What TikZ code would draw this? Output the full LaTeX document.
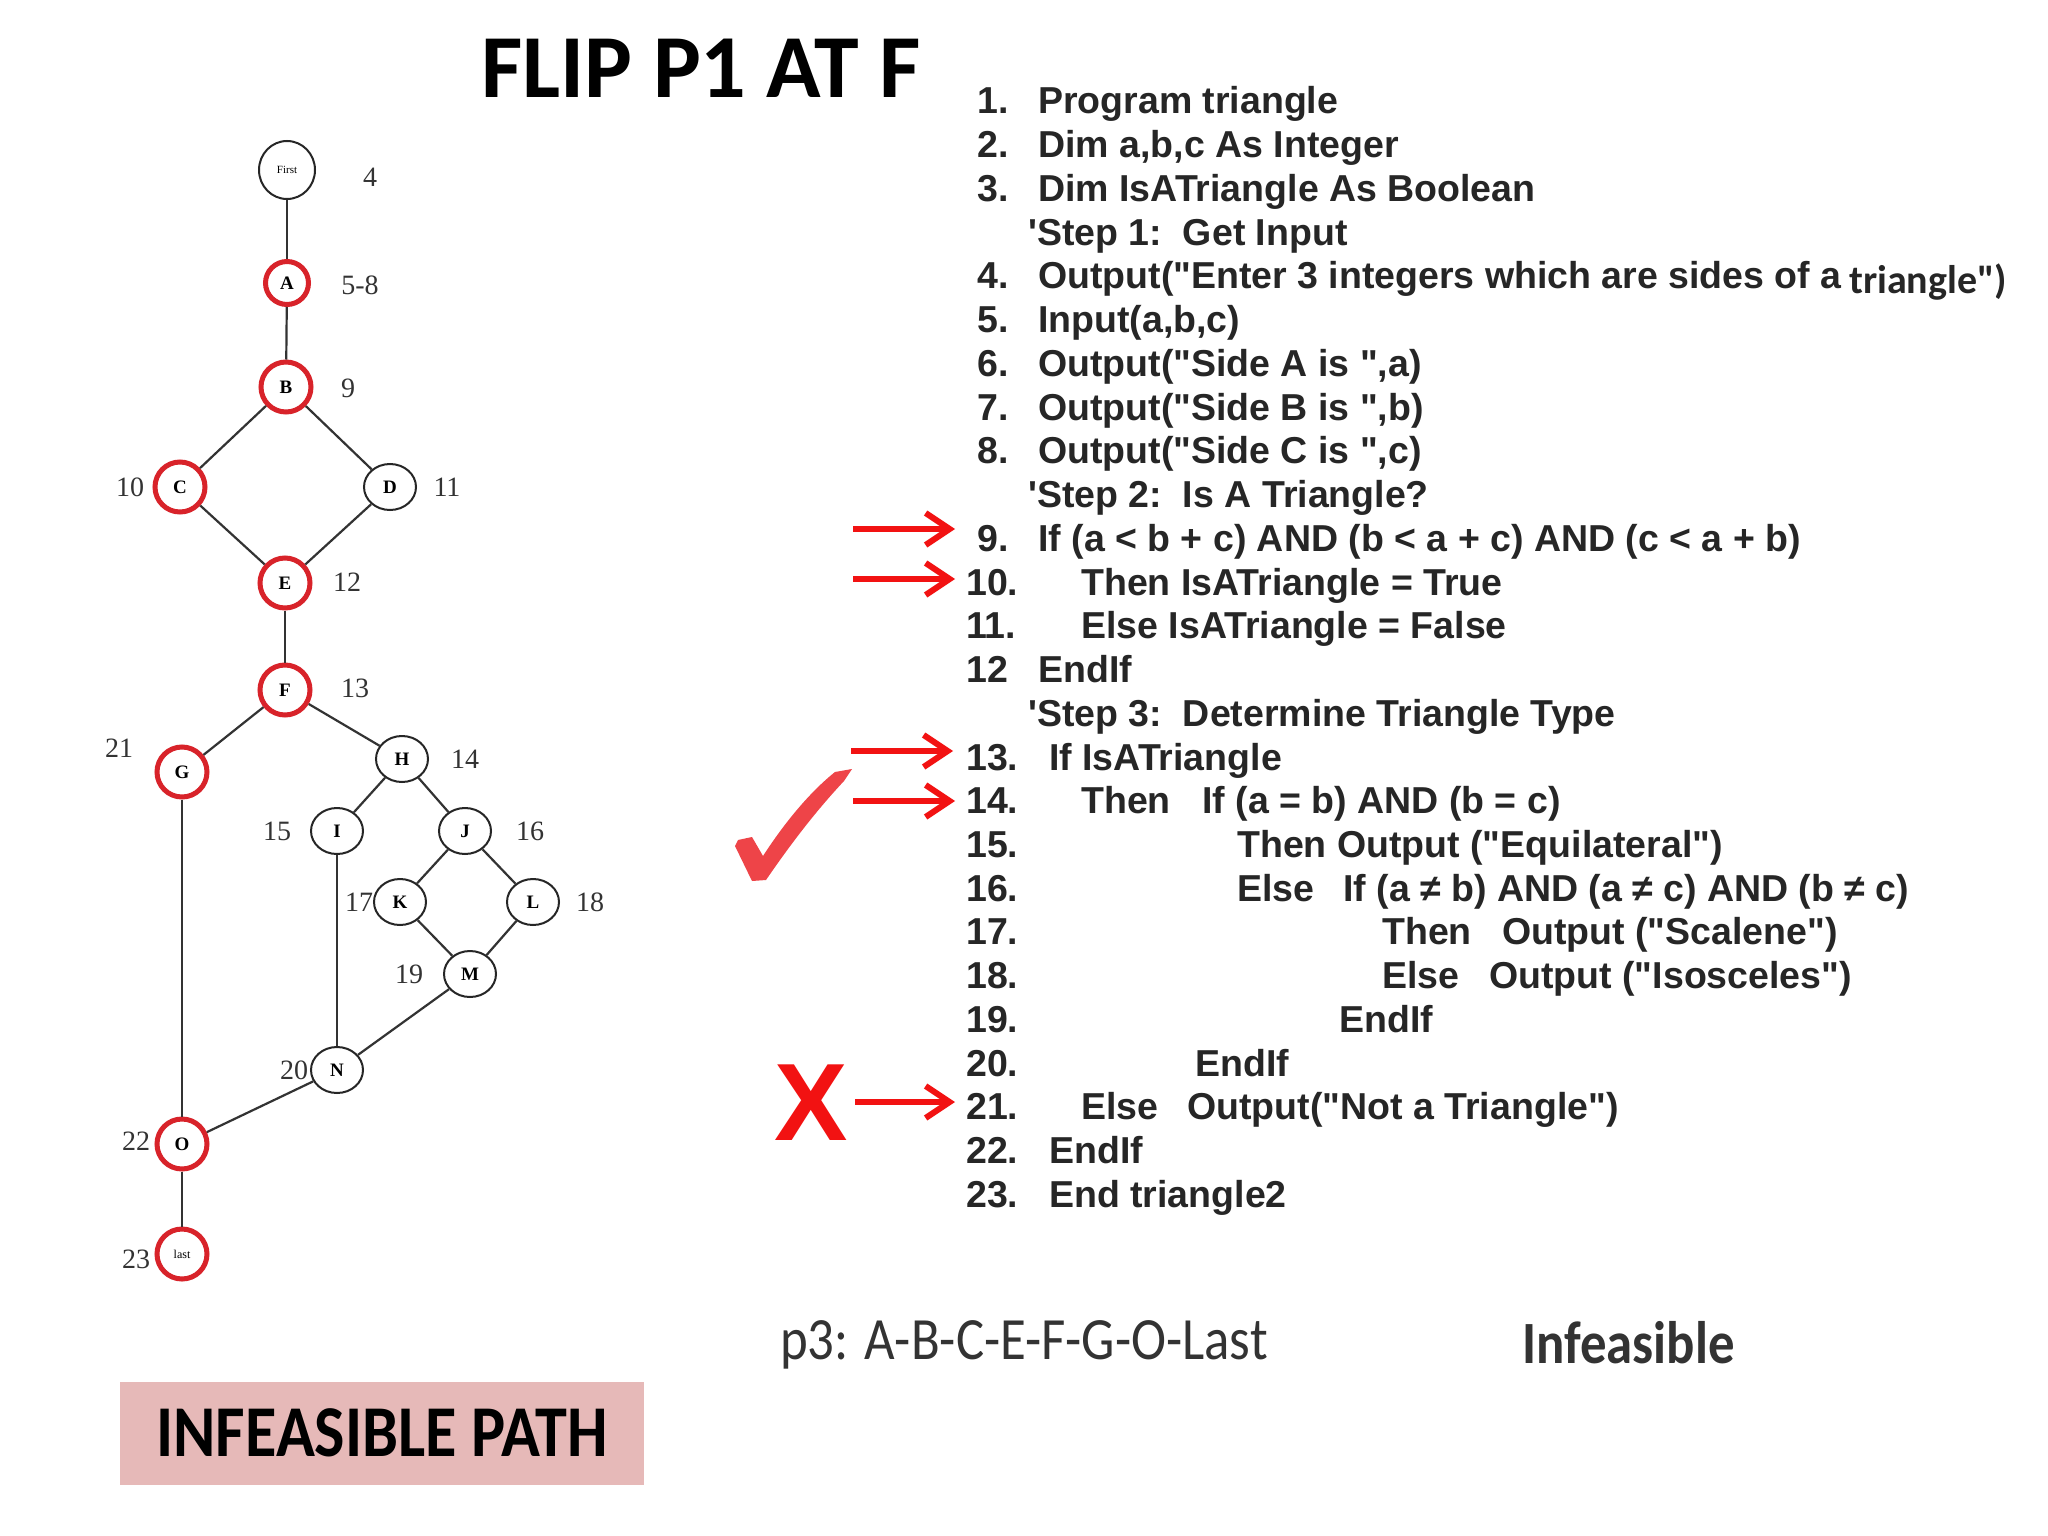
\documentclass[tikz,border=0pt]{standalone}
\usepackage{fontspec}
\usetikzlibrary{shapes.geometric,arrows.meta}
\newfontfamily\codef{Liberation Sans}
\newfontfamily\calf{Carlito}
\newfontfamily\calnarrow[FakeStretch=0.88]{Carlito}
\newfontfamily\serf{Liberation Serif}
\definecolor{cred}{HTML}{D8232A}
\definecolor{ared}{HTML}{F21212}
\definecolor{ckred}{HTML}{EE4448}
\definecolor{pinkbox}{HTML}{E6B9B8}
\definecolor{edgec}{HTML}{333333}
\tikzset{
  code/.style={anchor=base west, inner sep=0pt, font=\codef\bfseries\fontsize{37.5}{44}\selectfont, text=black!85},
  gnode/.style={ellipse, draw=black!85, line width=2pt, minimum width=52pt, minimum height=46pt, inner sep=0pt, font=\serf\bfseries\fontsize{19}{19}\selectfont},
  rnode/.style={circle, draw=cred, line width=5pt, minimum size=50pt, inner sep=0pt, font=\serf\bfseries\fontsize{19}{19}\selectfont},
  glabel/.style={inner sep=0pt, font=\serf\fontsize{28}{28}\selectfont, text=black!80},
  edge/.style={draw=edgec, line width=2.2pt},
  redarrow/.style={draw=ared, line width=6pt, -{Straight Barb[length=24pt,width=32pt,line width=6pt]}},
}
\begin{document}
\begin{tikzpicture}[x=1pt,y=-1pt]
\fill[white] (0,0) rectangle (2048,1536);
\useasboundingbox (0,0) rectangle (2048,1536);

% title
\node[inner sep=0pt, font=\calf\bfseries\fontsize{90}{90}\selectfont] (title) at (701,68) {FLIP P1 AT F};

% graph nodes
\node[gnode, minimum width=56pt, minimum height=58pt, font=\serf\fontsize{11}{11}\selectfont] (first) at (287,170) {First};
\node[rnode, minimum size=43pt] (A) at (287,283) {A};
\node[rnode] (B) at (286,387) {B};
\node[rnode] (C) at (180,487) {C};
\node[gnode] (D) at (390,487) {D};
\node[rnode] (E) at (285,583) {E};
\node[rnode] (F) at (285,690) {F};
\node[rnode] (G) at (182,772) {G};
\node[gnode] (H) at (402,759) {H};
\node[gnode] (I) at (337,831) {I};
\node[gnode] (J) at (465,831) {J};
\node[gnode] (K) at (400,902) {K};
\node[gnode] (L) at (533,902) {L};
\node[gnode] (M) at (470,974) {M};
\node[gnode] (N) at (337,1070) {N};
\node[rnode] (O) at (182,1144) {O};
\node[rnode, font=\serf\fontsize{12}{12}\selectfont] (last) at (182,1254) {last};

\draw[edge] (first) -- (A);
\draw[edge] (A) -- (B);
\draw[edge] (B) -- (C);
\draw[edge] (B) -- (D);
\draw[edge] (C) -- (E);
\draw[edge] (D) -- (E);
\draw[edge] (E) -- (F);
\draw[edge] (F) -- (G);
\draw[edge] (F) -- (H);
\draw[edge] (H) -- (I);
\draw[edge] (H) -- (J);
\draw[edge] (J) -- (K);
\draw[edge] (J) -- (L);
\draw[edge] (K) -- (M);
\draw[edge] (L) -- (M);
\draw[edge] (I) -- (N);
\draw[edge] (M) -- (N);
\draw[edge] (G) -- (O);
\draw[edge] (N) -- (O);
\draw[edge] (O) -- (last);

% graph labels
\node[glabel] (n4) at (370,177) {4};
\node[glabel] (n58) at (360,285) {5-8};
\node[glabel] (n9) at (348,388) {9};
\node[glabel] (n10) at (130,487) {10};
\node[glabel] (n11) at (447,487) {11};
\node[glabel] (n12) at (347,582) {12};
\node[glabel] (n13) at (355,688) {13};
\node[glabel] (n21) at (119,748) {21};
\node[glabel] (n14) at (465,759) {14};
\node[glabel] (n15) at (277,831) {15};
\node[glabel] (n16) at (530,831) {16};
\node[glabel] (n17) at (359,902) {17};
\node[glabel] (n18) at (590,902) {18};
\node[glabel] (n19) at (409,974) {19};
\node[glabel] (n20) at (294,1070) {20};
\node[glabel] (n22) at (136,1141) {22};
\node[glabel] (n23) at (136,1259) {23};

% code listing: numbers
\node[code] (c1n) at (977,114) {1.};
\node[code] (c2n) at (977,157.7) {2.};
\node[code] (c3n) at (977,201.5) {3.};
\node[code] (c4n) at (977,288.9) {4.};
\node[code] (c5n) at (977,332.7) {5.};
\node[code] (c6n) at (977,376.4) {6.};
\node[code] (c7n) at (977,420.1) {7.};
\node[code] (c8n) at (977,463.8) {8.};
\node[code] (c9n) at (977,551.3) {9.};
\node[code] (c10n) at (966,595) {10.};
\node[code] (c11n) at (966,638.8) {11.};
\node[code] (c12n) at (966,682.5) {12};
\node[code] (c13n) at (966,770) {13.};
\node[code] (c14n) at (966,813.7) {14.};
\node[code] (c15n) at (966,857.4) {15.};
\node[code] (c16n) at (966,901.1) {16.};
\node[code] (c17n) at (966,944.9) {17.};
\node[code] (c18n) at (966,988.6) {18.};
\node[code] (c19n) at (966,1032.3) {19.};
\node[code] (c20n) at (966,1076.1) {20.};
\node[code] (c21n) at (966,1119.8) {21.};
\node[code] (c22n) at (966,1163.5) {22.};
\node[code] (c23n) at (966,1207.3) {23.};

% code listing: text
\node[code] (c1) at (1038,114) {Program triangle};
\node[code] (c2) at (1038,157.7) {Dim a,b,c As Integer};
\node[code] (c3) at (1038,201.5) {Dim IsATriangle As Boolean};
\node[code] (s1) at (1028,245.2) {'Step 1:\ \ Get Input};
\node[code] (c4) at (1038,288.9) {Output("Enter 3 integers which are sides of a};
\node[code, font=\calf\bfseries\fontsize{40}{48}\selectfont] (c4b) at (1849,293) {triangle")};
\node[code] (c5) at (1038,332.7) {Input(a,b,c)};
\node[code] (c6) at (1038,376.4) {Output("Side A is ",a)};
\node[code] (c7) at (1038,420.1) {Output("Side B is ",b)};
\node[code] (c8) at (1038,463.8) {Output("Side C is ",c)};
\node[code] (s2) at (1028,507.6) {'Step 2:\ \ Is A Triangle?};
\node[code] (c9) at (1038,551.3) {If (a < b + c) AND (b < a + c) AND (c < a + b)};
\node[code] (c10) at (1081,595) {Then IsATriangle = True};
\node[code] (c11) at (1081,638.8) {Else IsATriangle = False};
\node[code] (c12) at (1038,682.5) {EndIf};
\node[code] (s3) at (1028,726.2) {'Step 3:\ \ Determine Triangle Type};
\node[code] (c13) at (1049,770) {If IsATriangle};
\node[code] (c14a) at (1081,813.7) {Then};
\node[code] (c14b) at (1202,813.7) {If (a = b) AND (b = c)};
\node[code] (c15) at (1237,857.4) {Then Output ("Equilateral")};
\node[code] (c16a) at (1237,901.1) {Else};
\node[code] (c16b) at (1343,901.1) {If (a ≠ b) AND (a ≠\ c) AND (b ≠ c)};
\node[code] (c17a) at (1382,944.9) {Then};
\node[code] (c17b) at (1502,944.9) {Output ("Scalene")};
\node[code] (c18a) at (1382,988.6) {Else};
\node[code] (c18b) at (1489,988.6) {Output ("Isosceles")};
\node[code] (c19) at (1339,1032.3) {EndIf};
\node[code] (c20) at (1195,1076.1) {EndIf};
\node[code] (c21a) at (1081,1119.8) {Else};
\node[code] (c21b) at (1187,1119.8) {Output("Not a Triangle")};
\node[code] (c22) at (1049,1163.5) {EndIf};
\node[code] (c23) at (1049,1207.3) {End triangle2};

% red arrows
\coordinate (a9s) at (853,529);
\coordinate (a9e) at (955,529);
\coordinate (a10s) at (853,579);
\coordinate (a10e) at (955,579);
\coordinate (a13s) at (851,751);
\coordinate (a13e) at (953,751);
\coordinate (a14s) at (853,801);
\coordinate (a14e) at (955,801);
\coordinate (a21s) at (855,1102);
\coordinate (a21e) at (955,1102);
\draw[redarrow] (a9s) -- (a9e);
\draw[redarrow] (a10s) -- (a10e);
\draw[redarrow] (a13s) -- (a13e);
\draw[redarrow] (a14s) -- (a14e);
\draw[redarrow] (a21s) -- (a21e);

% X mark
\node[inner sep=0pt, text=ared, font=\codef\bfseries\fontsize{110}{110}\selectfont] (xmark) at (811,1103) {X};

% check mark
\fill[ckred] (735,846) -- (738,840) -- (752,837) -- (763,856)
  .. controls (785,822) and (810,792) .. (835,772) -- (852,769) -- (844,781)
  .. controls (815,812) and (790,845) .. (766,880) -- (752,881) -- cycle;

% bottom texts
\node[inner sep=0pt, anchor=west, text=black!80, font=\calnarrow\fontsize{60}{60}\selectfont] (p3) at (780,1345) {p3: A-B-C-E-F-G-O-Last};
\node[inner sep=0pt, anchor=west, text=black!80, font=\calnarrow\bfseries\fontsize{60}{60}\selectfont] (inf) at (1522,1343) {Infeasible};
\node[fill=pinkbox, minimum width=524pt, minimum height=103pt, inner sep=0pt, font=\calnarrow\bfseries\fontsize{73}{73}\selectfont] (ipath) at (382,1433) {INFEASIBLE PATH};
\end{tikzpicture}
\end{document}
